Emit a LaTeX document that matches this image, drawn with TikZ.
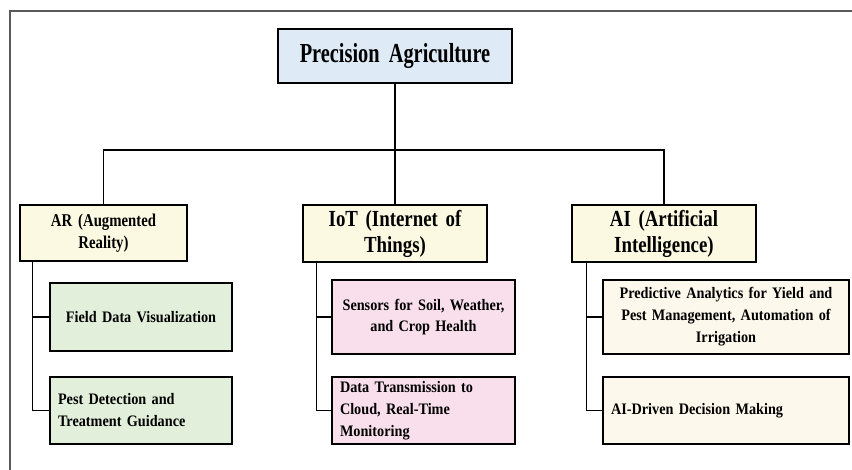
\documentclass[tikz,border=0pt]{standalone}
\usepackage{fontspec}
\setmainfont{Liberation Serif}
\newfontfamily\rootfont[FakeStretch=0.74]{Liberation Serif}
\newfontfamily\catfont[FakeStretch=0.82]{Liberation Serif}
\newfontfamily\leaffont[FakeStretch=0.89]{Liberation Serif}
\protected\def\rootsp{\spaceskip=5.2pt\relax}
\protected\def\catsp{\spaceskip=4.8pt\relax}
\protected\def\arsp{\spaceskip=3.8pt\relax}
\protected\def\leafsp{\spaceskip=3.7pt\relax}
\definecolor{rootfill}{HTML}{DEEBF7}
\definecolor{catfill}{HTML}{FBF9E1}
\definecolor{greenfill}{HTML}{E2EFDA}
\definecolor{pinkfill}{HTML}{F9DFEB}
\definecolor{creamfill}{HTML}{FDF8EC}
\definecolor{framegray}{HTML}{5A5A5A}
\tikzset{
  box/.style={draw=black, line width=1.3pt, inner ysep=0pt, inner xsep=8pt, text=black},
  rootbox/.style={box, fill=rootfill, font=\rootfont\bfseries\fontsize{27.5}{31}\selectfont\rootsp, align=center},
  catbox/.style={box, fill=catfill, align=center},
  leafbox/.style={box, font=\leaffont\bfseries\fontsize{16}{22}\selectfont\leafsp},
  link/.style={draw=black, line width=1.3pt},
  framebar/.style={draw=framegray, line width=2pt}
}
\begin{document}
\begin{tikzpicture}[x=1pt, y=-1pt]
\useasboundingbox (0,0) rectangle (852,470);
% frame
\coordinate (fbl) at (9.5,470);
\coordinate (ftl) at (9.5,11.5);
\coordinate (ftr) at (852,11.5);
\draw[framebar] (fbl) -- (ftl) -- (ftr);

% root
\node[rootbox, minimum width=234pt, minimum height=54pt, text width=218pt] (root) at (395,56) {Precision Agriculture};

% categories
\node[catbox, minimum width=167pt, minimum height=56pt, text width=151pt,
      font=\catfont\bfseries\fontsize{18}{21.5}\selectfont\arsp] (ar) at (103.5,233) {AR (Augmented\\Reality)};
\node[catbox, minimum width=184pt, minimum height=57pt, text width=168pt,
      font=\catfont\bfseries\fontsize{23}{26}\selectfont\catsp] (iot) at (395,233.5) {IoT (Internet of\\Things)};
\node[catbox, minimum width=184pt, minimum height=57pt, text width=168pt,
      font=\catfont\bfseries\fontsize{23}{26}\selectfont\catsp] (ai) at (664,233.5) {AI (Artificial\\Intelligence)};

% leaves
\node[leafbox, fill=greenfill, minimum height=68pt, text width=166pt, align=center] (field) at (141,317) {Field Data Visualization};
\node[leafbox, fill=greenfill, minimum height=67pt, text width=166pt, align=left] (pest) at (141,410.5) {Pest Detection and\\Treatment Guidance};
\node[leafbox, fill=pinkfill, minimum height=74pt, text width=167pt, align=center,
      font=\leaffont\bfseries\fontsize{16}{20.5}\selectfont\leafsp] (sens) at (423.5,317) {Sensors for Soil, Weather,\\and Crop Health};
\node[leafbox, fill=pinkfill, minimum height=67pt, text width=167pt, align=left] (trans) at (423.5,410.5) {Data Transmission to\\Cloud, Real-Time\\Monitoring};
\node[leafbox, fill=creamfill, minimum height=74pt, text width=230pt, align=center] (pred) at (726,317) {Predictive Analytics for Yield and\\Pest Management, Automation of\\Irrigation};
\node[leafbox, fill=creamfill, minimum height=67pt, text width=230pt, align=left] (aid) at (726,410.5) {AI-Driven Decision Making};

% connectors
\coordinate (bus) at (395,150);
\draw[link] (root.south) -- (iot.north);
\draw[link] (ar.north) |- (bus) -| (ai.north);

\coordinate (arspine) at ([xshift=13pt]ar.south west);
\coordinate (iotspine) at ([xshift=14pt]iot.south west);
\coordinate (aispine) at ([xshift=15pt]ai.south west);
\draw[link] (arspine) |- (pest.west);
\draw[link] (arspine) |- (field.west);
\draw[link] (iotspine) |- (trans.west);
\draw[link] (iotspine) |- (sens.west);
\draw[link] (aispine) |- (aid.west);
\draw[link] (aispine) |- (pred.west);
\end{tikzpicture}
\end{document}
